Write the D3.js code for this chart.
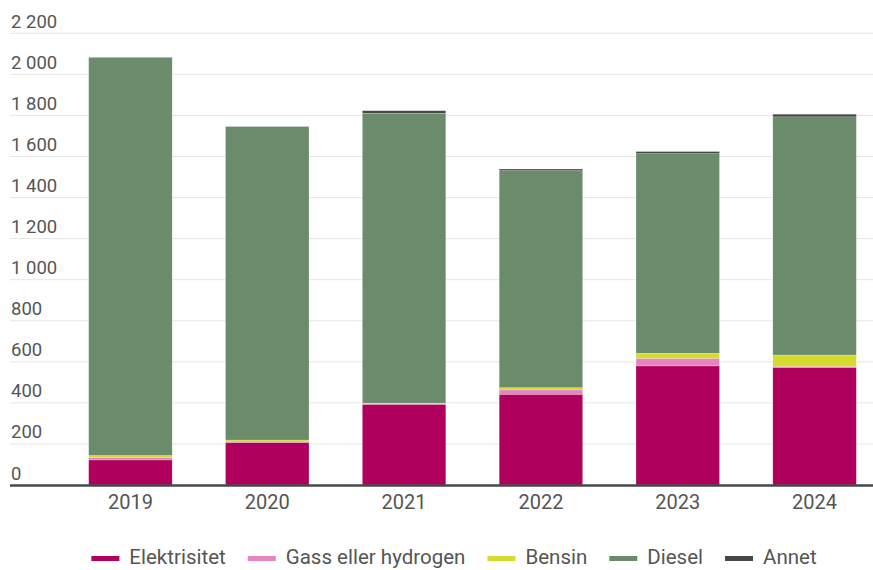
<!DOCTYPE html>
<html>
<head>
<meta charset="utf-8">
<script src="https://cdn.jsdelivr.net/npm/d3@7"></script>
<style>
  body { margin: 0; background: #fff; }
  text { font-family: Roboto, "Noto Sans", sans-serif; fill: #555; }
</style>
</head>
<body>
<div id="chart"></div>
<script>
// data
var years = ["2019", "2020", "2021", "2022", "2023", "2024"];
var elektrisitet = [122, 208, 393, 442, 580, 573];
var gass = [13, 1, 5, 21, 37, 5];
var bensin = [9, 10, 1, 11, 25, 55];
var diesel = [1939, 1527, 1412, 1057, 972, 1160];
var annet = [0, 0, 12, 8, 10, 13];
var yTicks = [0, 200, 400, 600, 800, 1000, 1200, 1400, 1600, 1800, 2000, 2200];

var seriesNames = ["Elektrisitet", "Gass eller hydrogen", "Bensin", "Diesel", "Annet"];
var colors = ["#b0005e", "#e684c0", "#d5da2e", "#6b8c6b", "#474747"];

var width = 873, height = 570;

var svg = d3.select("#chart").append("svg")
    .attr("width", width)
    .attr("height", height);

// rows for d3.stack
var rows = years.map(function(y, i) {
  return {
    year: y,
    "Elektrisitet": elektrisitet[i],
    "Gass eller hydrogen": gass[i],
    "Bensin": bensin[i],
    "Diesel": diesel[i],
    "Annet": annet[i]
  };
});

var stacked = d3.stack().keys(seriesNames)(rows);

var x = d3.scaleBand()
    .domain(years)
    .range([62, 883])
    .paddingInner(0.39)
    .paddingOuter(0.195);

var y = d3.scaleLinear()
    .domain([0, 2200])
    .range([485, 33.3]);

var fmt = function(d) { return d3.format(",")(d).replace(/,/g, " "); };

// gridlines + labels
var grid = svg.append("g");
grid.selectAll("line")
  .data(yTicks.filter(function(d) { return d > 0; }))
  .enter().append("line")
    .attr("x1", 10).attr("x2", width)
    .attr("y1", function(d) { return y(d); })
    .attr("y2", function(d) { return y(d); })
    .attr("stroke", "#e6e6e6")
    .attr("stroke-width", 1);

grid.selectAll("text")
  .data(yTicks)
  .enter().append("text")
    .attr("x", 11)
    .attr("y", function(d) { return y(d) - 5.5; })
    .style("font-size", "18.5px")
    .text(fmt);

// bars
svg.append("g").selectAll("g")
  .data(stacked)
  .enter().append("g")
    .attr("fill", function(d, i) { return colors[i]; })
  .selectAll("rect")
  .data(function(d) { return d; })
  .enter().append("rect")
    .attr("x", function(d) { return x(d.data.year); })
    .attr("width", x.bandwidth())
    .attr("y", function(d) { return y(d[1]); })
    .attr("height", function(d) { return y(d[0]) - y(d[1]); })
    .attr("stroke", "#fff")
    .attr("stroke-width", 0.4)
    .attr("stroke-opacity", 0.5);

// baseline
svg.append("line")
    .attr("x1", 10).attr("x2", width)
    .attr("y1", y(0) + 0.5).attr("y2", y(0) + 0.5)
    .attr("stroke", "#474747")
    .attr("stroke-width", 2.5);

// x axis labels
var xAxis = d3.axisBottom(x).tickSize(0).tickPadding(9);
var gx = svg.append("g")
    .attr("transform", "translate(0," + (y(0) + 1) + ")")
    .call(xAxis);
gx.select(".domain").remove();
gx.selectAll("text")
    .style("font-size", "20px")
    .style("font-family", "Roboto, sans-serif")
    .attr("fill", "#555");

// legend
var legend = svg.append("g");
var items = legend.selectAll("g")
  .data(seriesNames)
  .enter().append("g");

items.append("rect")
    .attr("width", 28)
    .attr("height", 5)
    .attr("y", -8)
    .attr("fill", function(d, i) { return colors[i]; });

items.append("text")
    .attr("x", 38)
    .attr("y", 0)
    .style("font-size", "20.5px")
    .text(function(d) { return d; });

var pos = 0;
items.each(function() {
  var g = d3.select(this);
  var w = 38 + g.select("text").node().getComputedTextLength();
  g.attr("data-x", pos);
  pos += w + 22;
});
var total = pos - 22;
var startX = 454 - total / 2;
items.attr("transform", function() {
  return "translate(" + (startX + (+d3.select(this).attr("data-x"))) + ",564)";
});
</script>
</body>
</html>
